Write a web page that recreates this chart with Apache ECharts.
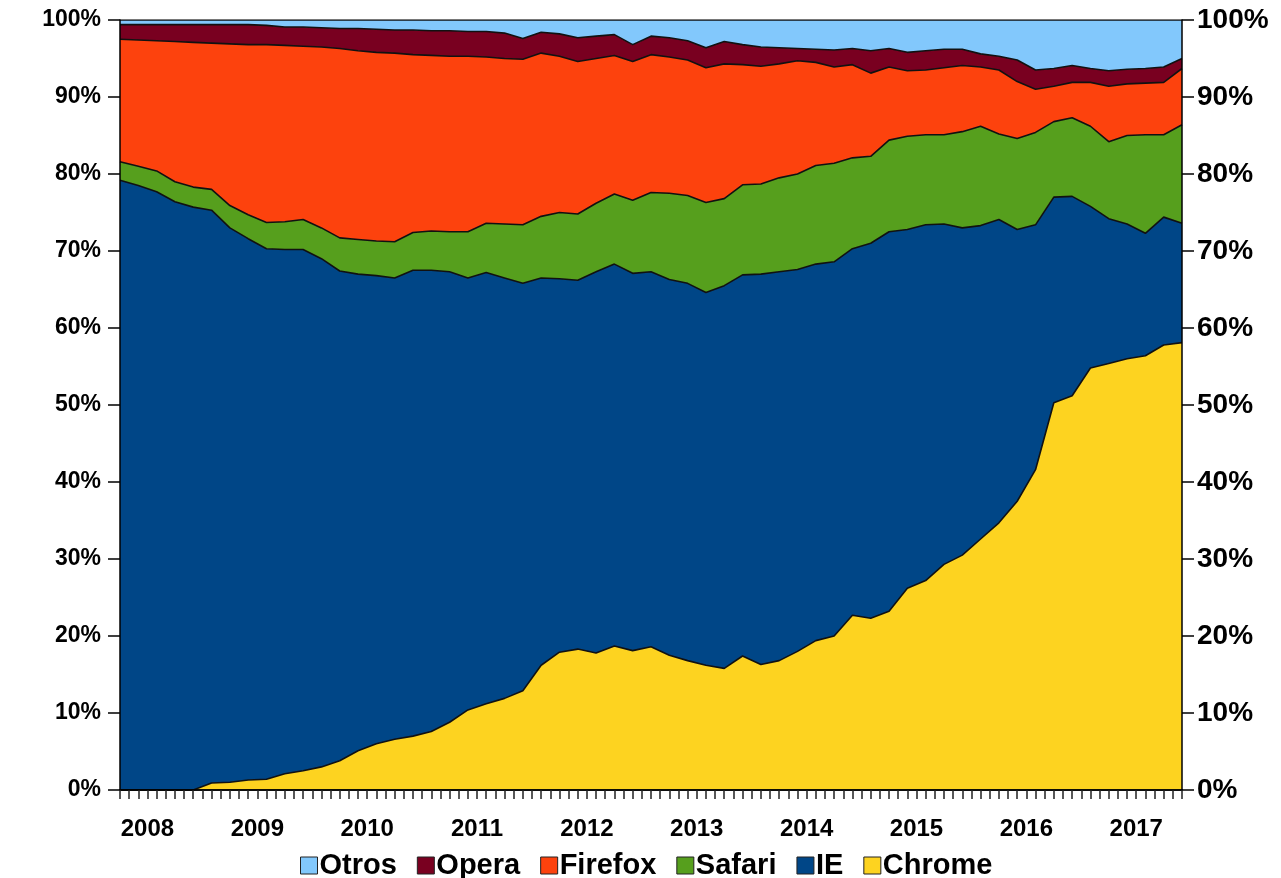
<!DOCTYPE html>
<html>
<head>
<meta charset="utf-8">
<script src="https://cdn.jsdelivr.net/npm/echarts@6/dist/echarts.min.js"></script>
<style>
  html, body { margin: 0; padding: 0; background: #fff; }
  #chart { width: 1281px; height: 878px; }
</style>
</head>
<body>
<div id="chart"></div>
<script>
// cuota de navegadores, una muestra cada dos meses (oct 2007 - jun 2017)
const startYear = 2007;
const startMonth = 10;
const monthCount = 117;
const sampleStep = 2;

const chrome = [0, 0, 0, 0, 0, 0.9, 1.0, 1.3, 1.4, 2.1, 2.5, 3.0, 3.8, 5.1, 6.0, 6.6, 7.0, 7.6, 8.8, 10.4,
  11.2, 11.9, 12.9, 16.2, 17.9, 18.3, 17.8, 18.7, 18.1, 18.6, 17.5, 16.8, 16.2, 15.8, 17.4, 16.3, 16.8, 18.0, 19.4, 20.0,
  22.7, 22.3, 23.2, 26.2, 27.2, 29.3, 30.5, 32.6, 34.7, 37.5, 41.6, 50.3, 51.2, 54.8, 55.4, 56.0, 56.4, 57.8, 58.1];
const ie = [79.2, 78.5, 77.7, 76.4, 75.7, 74.4, 72.0, 70.3, 68.9, 68.1, 67.7, 66.0, 63.6, 61.9, 60.8, 59.9, 60.5, 59.9, 58.5, 56.1,
  56.0, 54.6, 52.9, 50.3, 48.5, 47.9, 49.5, 49.6, 49.0, 48.7, 48.8, 49.0, 48.4, 49.7, 49.5, 50.7, 50.5, 49.6, 48.9, 48.6,
  47.6, 48.7, 49.3, 46.6, 46.2, 44.2, 42.5, 40.7, 39.4, 35.3, 31.8, 26.7, 25.9, 21.0, 18.8, 17.5, 15.9, 16.6, 15.5];
const safari = [2.4, 2.5, 2.7, 2.6, 2.6, 2.7, 2.9, 3.1, 3.4, 3.6, 3.9, 4.0, 4.3, 4.5, 4.5, 4.7, 4.9, 5.1, 5.2, 6.0,
  6.4, 7.0, 7.6, 8.0, 8.6, 8.6, 8.9, 9.1, 9.5, 10.3, 11.2, 11.4, 11.7, 11.3, 11.7, 11.7, 12.2, 12.4, 12.8, 12.8,
  11.8, 11.3, 11.9, 12.1, 11.7, 11.6, 12.5, 12.9, 11.1, 11.8, 12.0, 9.8, 10.2, 10.4, 10.0, 11.5, 12.8, 10.7, 12.8];
const firefox = [15.9, 16.4, 16.9, 18.2, 18.8, 19.0, 21.0, 22.1, 23.1, 22.9, 22.5, 23.5, 24.6, 24.5, 24.5, 24.5, 23.1, 22.8, 22.8, 22.8,
  21.6, 21.5, 21.5, 21.2, 20.3, 19.8, 18.8, 18.0, 18.0, 17.9, 17.7, 17.6, 17.5, 17.5, 15.6, 15.3, 14.8, 14.7, 13.4, 12.5,
  12.1, 10.8, 9.5, 8.5, 8.4, 8.7, 8.6, 7.7, 8.3, 7.4, 5.6, 4.6, 4.6, 5.7, 7.2, 6.7, 6.7, 6.8, 7.3];
const opera = [1.9, 2.0, 2.1, 2.2, 2.3, 2.4, 2.5, 2.6, 2.5, 2.4, 2.5, 2.5, 2.6, 2.9, 3.0, 3.0, 3.2, 3.2, 3.3, 3.2,
  3.3, 3.3, 2.7, 2.7, 2.9, 3.1, 2.9, 2.7, 2.2, 2.4, 2.5, 2.5, 2.6, 2.9, 2.6, 2.5, 2.1, 1.6, 1.7, 2.2,
  2.1, 2.9, 2.4, 2.4, 2.5, 2.4, 2.1, 1.7, 1.8, 2.8, 2.5, 2.3, 2.2, 1.8, 2.0, 1.9, 1.9, 2.0, 1.3];
const otros = [0.6, 0.6, 0.6, 0.6, 0.6, 0.6, 0.6, 0.6, 0.7, 0.9, 0.9, 1.0, 1.1, 1.1, 1.2, 1.3, 1.3, 1.4, 1.4, 1.5,
  1.5, 1.7, 2.4, 1.6, 1.8, 2.3, 2.1, 1.9, 3.2, 2.1, 2.3, 2.7, 3.6, 2.8, 3.2, 3.5, 3.6, 3.7, 3.8, 3.9,
  3.7, 4.0, 3.7, 4.2, 4.0, 3.8, 3.8, 4.4, 4.7, 5.2, 6.5, 6.3, 5.9, 6.3, 6.6, 6.4, 6.3, 6.1, 5.0];

const legendOrder = ['Otros', 'Opera', 'Firefox', 'Safari', 'IE', 'Chrome'];
const yTicks = [0, 10, 20, 30, 40, 50, 60, 70, 80, 90, 100];

// categorias mensuales (marcas del eje x) y las de muestreo (cada dos meses)
const months = [];
for (let i = 0; i < monthCount; i++) {
  const m = startMonth - 1 + i;
  const y = startYear + Math.floor(m / 12);
  months.push(y + '-' + String((m % 12) + 1).padStart(2, '0'));
}
const samples = months.filter((_, i) => i % sampleStep === 0);

const font = 'Liberation Sans';
const black = '#000';

const makeSeries = (name, values, color) => ({
  name,
  type: 'line',
  stack: 'total',
  xAxisIndex: 1,
  yAxisIndex: 0,
  symbol: 'none',
  data: values,
  lineStyle: { color: '#111', width: 1.6 },
  itemStyle: { color },
  areaStyle: { color, opacity: 1 }
});

const yAxisBase = (position, fontSize, margin) => ({
  type: 'value',
  position,
  min: yTicks[0],
  max: yTicks[yTicks.length - 1],
  interval: 10,
  z: 10,
  axisLine: { show: true, lineStyle: { color: black, width: 1.5 } },
  axisTick: { show: true, length: 12, lineStyle: { color: black, width: 1.5 } },
  axisLabel: {
    formatter: '{value}%', color: black, fontFamily: font, fontWeight: 'bold', fontSize, margin
  },
  splitLine: { show: false }
});

const chart = echarts.init(document.getElementById('chart'), null, { renderer: 'canvas' });
chart.setOption({
  animation: false,
  backgroundColor: '#fff',
  grid: { left: 120, right: 99, top: 20, bottom: 88 },
  legend: {
    data: legendOrder,
    left: 295,
    top: 846,
    icon: 'rect',
    itemWidth: 17,
    itemHeight: 17,
    itemGap: 20,
    itemStyle: { borderColor: '#222', borderWidth: 1 },
    textStyle: { color: black, fontFamily: font, fontWeight: 'bold', fontSize: 29, padding: [0, 0, 0, -3] }
  },
  xAxis: [
    {
      type: 'category',
      data: months,
      boundaryGap: false,
      z: 10,
      axisLine: { show: true, lineStyle: { color: black, width: 1.5 } },
      axisTick: { show: true, interval: 0, length: 9, lineStyle: { color: '#222', width: 1.5 } },
      axisLabel: {
        interval: (index) => index % 12 === 3,
        formatter: (v) => v.slice(0, 4),
        color: black, fontFamily: font, fontWeight: 'bold', fontSize: 24, margin: 27
      },
      splitLine: { show: false }
    },
    {
      type: 'category',
      data: samples,
      boundaryGap: false,
      position: 'top',
      z: 10,
      axisLine: { show: true, lineStyle: { color: black, width: 1.5 } },
      axisTick: { show: false },
      axisLabel: { show: false },
      splitLine: { show: false }
    }
  ],
  yAxis: [yAxisBase('left', 23, 19), yAxisBase('right', 28, 15)],
  series: [
    makeSeries('Chrome', chrome, '#fdd320'),
    makeSeries('IE', ie, '#004687'),
    makeSeries('Safari', safari, '#569f1d'),
    makeSeries('Firefox', firefox, '#fd420d'),
    makeSeries('Opera', opera, '#790020'),
    makeSeries('Otros', otros, '#82c8fc')
  ]
});
</script>
</body>
</html>
